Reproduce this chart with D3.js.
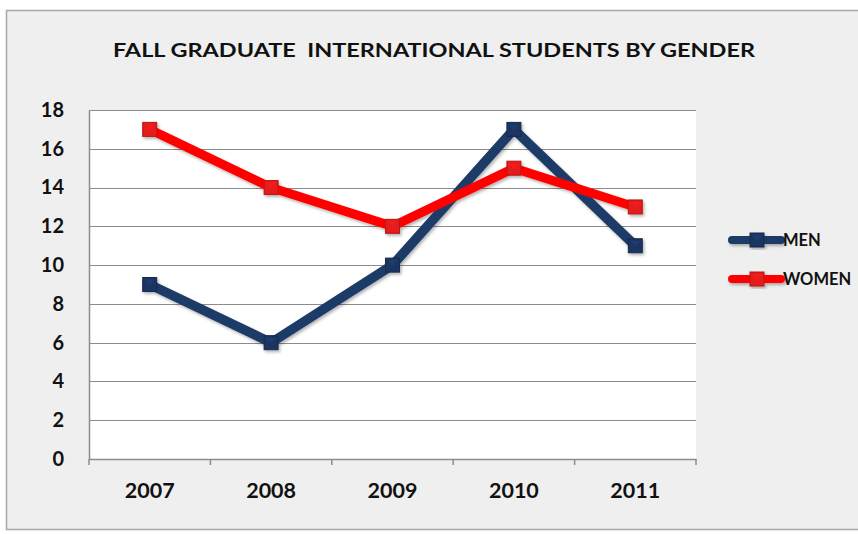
<!DOCTYPE html>
<html>
<head>
<meta charset="utf-8">
<script src="https://cdn.jsdelivr.net/npm/d3@7"></script>
<style>
  html, body { margin: 0; padding: 0; background: #ffffff; }
  svg { display: block; }
  text { font-family: Lato, "Open Sans", "Liberation Sans", sans-serif; font-weight: bold; fill: #111; }
</style>
</head>
<body>
<svg id="chart" width="858" height="534"></svg>
<script>
// Fall graduate international students, by gender and year
const years = ["2007", "2008", "2009", "2010", "2011"];
const men = [9, 6, 10, 17, 11];
const women = [17, 14, 12, 15, 13];
const yTicks = [0, 2, 4, 6, 8, 10, 12, 14, 16, 18];
const seriesNames = ["MEN", "WOMEN"];
const seriesColors = ["#1f3b66", "#ff0000"];
const markerColors = ["#1b3560", "#e51b1b"];

const svg = d3.select("#chart");

// chart frame
svg.append("rect")
  .attr("x", 6.5).attr("y", 10.5)
  .attr("width", 870).attr("height", 519)
  .attr("fill", "#efefef")
  .attr("stroke", "#a9a9a9").attr("stroke-width", 1.5);

const plot = { left: 89, right: 696, top: 110, bottom: 459 };

const x = d3.scaleBand().domain(years).range([plot.left, plot.right]);
const y = d3.scaleLinear().domain([0, 18]).range([plot.bottom, plot.top]);

// plot area
svg.append("rect")
  .attr("x", plot.left).attr("y", plot.top)
  .attr("width", plot.right - plot.left).attr("height", plot.bottom - plot.top)
  .attr("fill", "#ffffff");

// gridlines
svg.append("g")
  .selectAll("line")
  .data(yTicks.filter(d => d > 0))
  .join("line")
  .attr("x1", plot.left).attr("x2", plot.right)
  .attr("y1", d => Math.round(y(d)) + 0.5).attr("y2", d => Math.round(y(d)) + 0.5)
  .attr("stroke", "#8c8c8c").attr("stroke-width", 1.2);

// y axis
const yAxis = svg.append("g")
  .attr("transform", `translate(${plot.left},0)`)
  .call(d3.axisLeft(y).tickValues(yTicks).tickSize(0).tickPadding(25));
yAxis.select(".domain").attr("stroke", "#8c8c8c").attr("stroke-width", 1.5);
yAxis.selectAll("text")
  .style("font-size", "20px").style("font-family", "Lato, 'Open Sans', sans-serif")
  .style("font-weight", "bold").attr("fill", "#111");

// x axis: ticks sit at the category boundaries
const xAxis = svg.append("g")
  .attr("transform", `translate(0,${plot.bottom})`)
  .call(d3.axisBottom(x).tickSize(0).tickPadding(24));
xAxis.select(".domain").attr("stroke", "#8c8c8c").attr("stroke-width", 1.5);
xAxis.selectAll("text")
  .style("font-size", "21.5px").style("font-family", "Lato, 'Open Sans', sans-serif")
  .style("font-weight", "bold").attr("fill", "#111");
const boundaries = years.map(d => x(d)).concat([x(years[years.length - 1]) + x.bandwidth()]);
xAxis.selectAll("line.bound")
  .data(boundaries)
  .join("line")
  .attr("class", "bound")
  .attr("x1", d => d).attr("x2", d => d)
  .attr("y1", 0).attr("y2", 6)
  .attr("stroke", "#8c8c8c").attr("stroke-width", 1.5);

// soft shadow for series
const defs = svg.append("defs");
const f = defs.append("filter").attr("id", "shadow").attr("x", "-20%").attr("y", "-20%").attr("width", "140%").attr("height", "140%");
f.append("feDropShadow").attr("dx", 1.5).attr("dy", 2).attr("stdDeviation", 1.5)
  .attr("flood-color", "#000").attr("flood-opacity", 0.3);

const cx = d => x(d) + x.bandwidth() / 2;
const line = d3.line().x(d => cx(d.year)).y(d => y(d.value));

const series = [men, women].map((vals, i) => ({
  name: seriesNames[i],
  color: seriesColors[i],
  marker: markerColors[i],
  points: vals.map((v, j) => ({ year: years[j], value: v }))
}));

function drawMarker(g, px, py, s) {
  const m = g.append("g").attr("transform", `translate(${px},${py})`);
  m.append("rect")
    .attr("x", -7).attr("y", -7).attr("width", 14).attr("height", 14)
    .attr("fill", s.marker).attr("stroke", d3.color(s.marker).darker(0.6)).attr("stroke-width", 1);
  // bevel highlight
  m.append("path")
    .attr("d", "M-5,-5 L5,-5 L0,1 Z")
    .attr("fill", d3.color(s.marker).brighter(0.7)).attr("opacity", 0.55);
}

const seriesG = svg.append("g").attr("filter", "url(#shadow)");
series.forEach((s, i) => {
  seriesG.append("path")
    .datum(s.points)
    .attr("d", line)
    .attr("fill", "none")
    .attr("stroke", s.color)
    .attr("stroke-width", i === 0 ? 9.5 : 9)
    .attr("stroke-linejoin", "miter");
});
series.forEach(s => {
  s.points.forEach(p => drawMarker(seriesG, cx(p.year), y(p.value), s));
});

// legend
const legend = svg.append("g");
series.forEach((s, i) => {
  const ly = 240 + i * 39;
  const g = legend.append("g").attr("filter", "url(#shadow)");
  g.append("line")
    .attr("x1", 732).attr("x2", 781).attr("y1", ly).attr("y2", ly)
    .attr("stroke", s.color).attr("stroke-width", 8).attr("stroke-linecap", "round");
  drawMarker(g, 757, ly, s);
  legend.append("text")
    .attr("x", 783).attr("y", ly).attr("dy", "0.36em")
    .style("font-size", "16.5px")
    .text(s.name);
});

// title
svg.append("text")
  .attr("x", 113).attr("y", 57)
  .attr("textLength", 642)
  .attr("lengthAdjust", "spacingAndGlyphs")
  .style("font-size", "19.5px")
  .attr("xml:space", "preserve")
  .text("FALL GRADUATE  INTERNATIONAL STUDENTS BY GENDER");
</script>
</body>
</html>
